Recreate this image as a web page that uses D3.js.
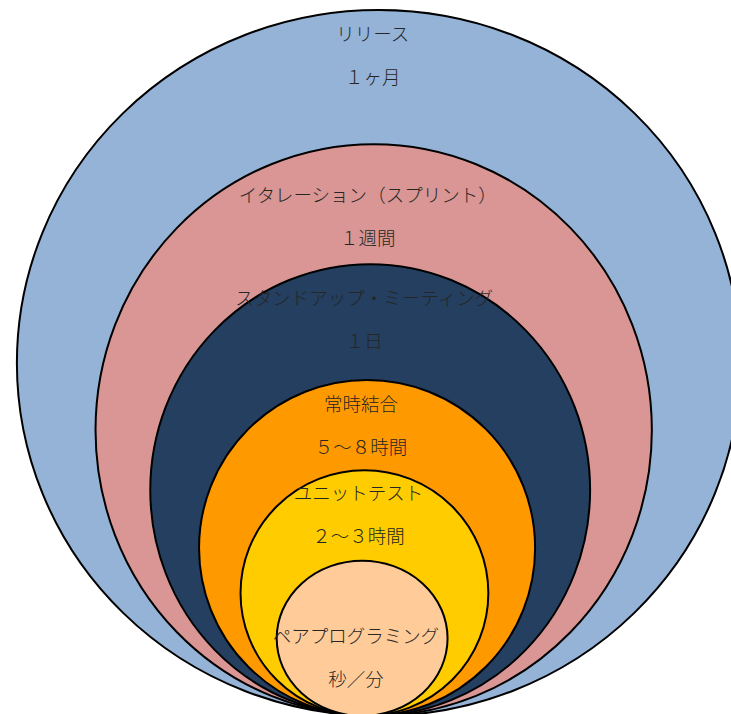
<!DOCTYPE html>
<html>
<head>
<meta charset="utf-8">
<script src="https://cdn.jsdelivr.net/npm/d3@7"></script>
<style>
  html, body { margin: 0; padding: 0; background: #fff; overflow: hidden; }
  svg { display: block; }
</style>
</head>
<body>
<svg id="chart"></svg>
<script>
// Nested feedback loops, from the outermost (longest) to the innermost (shortest)
const stages = [
  "リリース",
  "イタレーション（スプリント）",
  "スタンドアップ・ミーティング",
  "常時結合",
  "ユニットテスト",
  "ペアプログラミング"
];
const cycles = ["１ヶ月", "１週間", "１日", "５～８時間", "２～３時間", "秒／分"];

// Relative extent of each loop (outermost height = 100)
const ringHeight = [100, 81.0, 64.0, 47.6, 34.8, 22.0];
const ringWidth  = [102.5, 78.8, 62.3, 47.6, 35.1, 24.2];

const fills = ["#95B3D7", "#D99694", "#243F60", "#FF9900", "#FFCC00", "#FFCC99"];

const W = 731, H = 714;
const svg = d3.select("#chart").attr("width", W).attr("height", H);

// All loops touch at a common point at the bottom edge
const anchor = { x: 357, y: 716 };
const size = d3.scaleLinear().domain([0, 100]).range([0, 706]);

const rings = stages.map((s, i) => {
  const ry = size(ringHeight[i]) / 2;
  const rx = size(ringWidth[i]) / 2;
  return {
    stage: s,
    cycle: cycles[i],
    fill: fills[i],
    rx, ry,
    cx: anchor.x + 0.06 * rx,
    cy: anchor.y - ry,
    top: anchor.y - 2 * ry
  };
});

svg.append("g")
  .selectAll("ellipse")
  .data(rings)
  .join("ellipse")
  .attr("cx", d => d.cx)
  .attr("cy", d => d.cy)
  .attr("rx", d => d.rx)
  .attr("ry", d => d.ry)
  .attr("fill", d => d.fill)
  .attr("stroke", "#000")
  .attr("stroke-width", 2);

// Labels sit in the band between a loop's top and the next loop's top
const bandShift = [-23, 11, -4, -1, -2, 19];
const labels = svg.append("g")
  .attr("font-family", "'Noto Sans CJK JP', 'Noto Sans', sans-serif")
  .attr("font-size", 18.5)
  .attr("font-weight", 300)
  .attr("fill", "#262626")
  .attr("text-anchor", "middle");

rings.forEach((d, i) => {
  const next = i < rings.length - 1 ? rings[i + 1].top : H;
  const mid = (d.top + next) / 2 + bandShift[i];
  const x = d.cx - 6;
  labels.append("text")
    .attr("x", x).attr("y", mid - 21.5)
    .attr("dominant-baseline", "central")
    .text(d.stage);
  labels.append("text")
    .attr("x", x).attr("y", mid + 21.5)
    .attr("dominant-baseline", "central")
    .text(d.cycle);
});
</script>
</body>
</html>
